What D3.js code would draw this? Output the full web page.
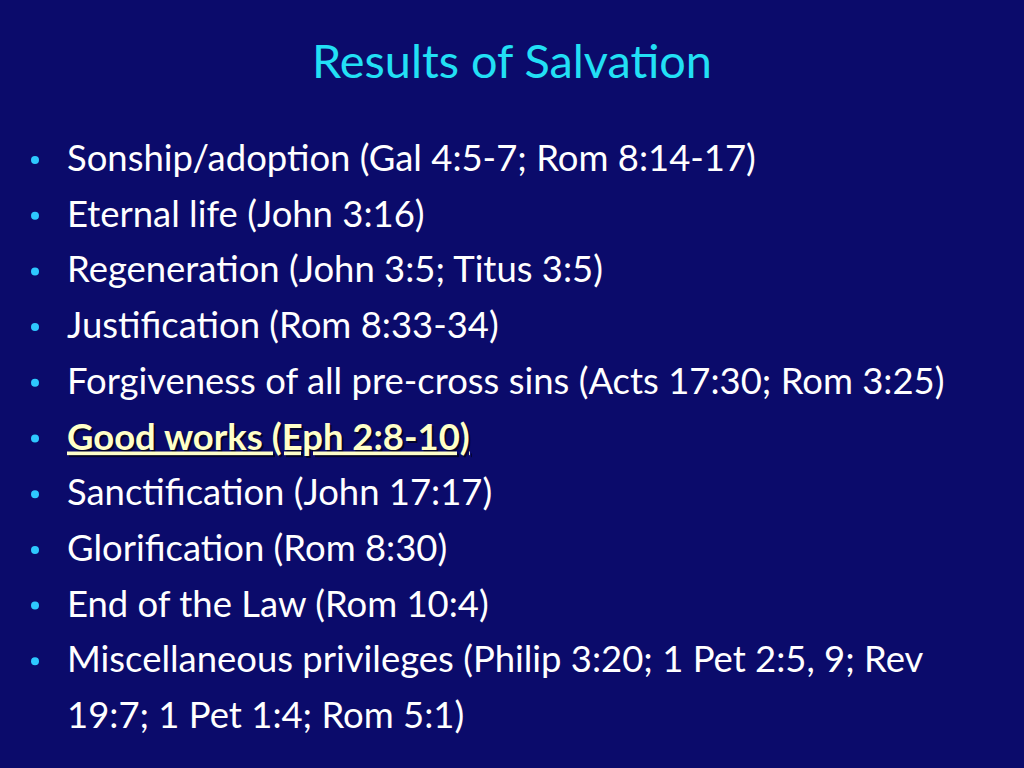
<!DOCTYPE html>
<html><head><meta charset="utf-8">
<script src="https://cdn.jsdelivr.net/npm/d3@7"></script>
<style>body{margin:0;background:#0b0b6b;}svg{display:block}</style>
</head><body>
<script>
const title = "Results of Salvation";
const items = [
  "Sonship/adoption (Gal 4:5-7; Rom 8:14-17)",
  "Eternal life (John 3:16)",
  "Regeneration (John 3:5; Titus 3:5)",
  "Justification (Rom 8:33-34)",
  "Forgiveness of all pre-cross sins (Acts 17:30; Rom 3:25)",
  "Good works (Eph 2:8-10)",
  "Sanctification (John 17:17)",
  "Glorification (Rom 8:30)",
  "End of the Law (Rom 10:4)",
  "Miscellaneous privileges (Philip 3:20; 1 Pet 2:5, 9; Rev|19:7; 1 Pet 1:4; Rom 5:1)"
];
const highlighted = [5];

const svg = d3.select("body").append("svg").attr("width",1024).attr("height",768);
svg.append("rect").attr("width",1024).attr("height",768).attr("fill","#0b0b6b");
const font = "Lato, 'Open Sans', sans-serif";

const tt = svg.append("text").attr("x",512).attr("y",78).attr("text-anchor","middle")
  .attr("font-family",font).attr("font-size",44).attr("fill","#22e0f5").text(title);
tt.attr("font-size",44*400/tt.node().getComputedTextLength());

let lines = [];
items.forEach((t,i)=>t.split("|").forEach((s,j)=>lines.push({text:s,item:i,cont:j>0})));
const y = d3.scaleLinear().domain([0,lines.length-1]).range([171,728]);

const g = svg.append("g");
const main = [];
lines.forEach((l,k)=>{
  if(!l.cont) g.append("circle").attr("cx",35).attr("cy",y(k)-11).attr("r",4).attr("fill","#2ec8ff");
  const hi = highlighted.includes(l.item);
  if(hi) g.append("text").attr("x",69).attr("y",y(k)+2).attr("class","ln").attr("fill","#000")
    .attr("font-weight","bold").attr("opacity",0.6).attr("text-decoration","underline").text(l.text);
  main.push(g.append("text").attr("x",67).attr("y",y(k)).attr("class","ln")
    .attr("fill",hi?"#ffffc8":"#ffffff").attr("font-weight",hi?"bold":"normal")
    .attr("text-decoration",hi?"underline":null).text(l.text));
});
const texts = g.selectAll("text.ln").attr("font-family",font).attr("font-size",32);
// scale so the "Forgiveness ..." line spans like the reference
const w = main[4].node().getComputedTextLength();
texts.attr("font-size",32*878/w);
</script>
</body></html>
